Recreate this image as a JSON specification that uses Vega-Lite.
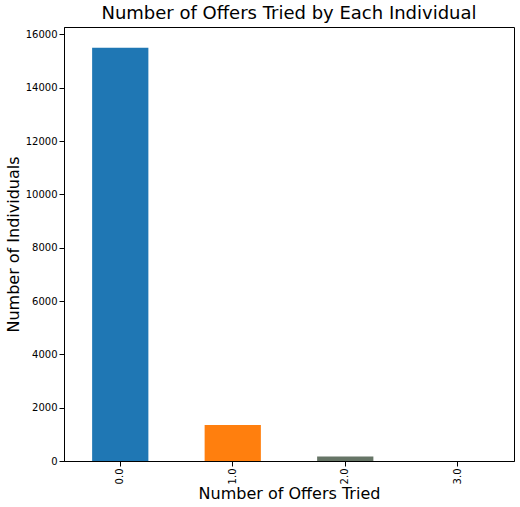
{
  "$schema": "https://vega.github.io/schema/vega-lite/v6.json",
  "width": 520,
  "height": 507,
  "autosize": {"type": "fit", "contains": "padding"},
  "padding": {"left": 5, "right": 6, "top": 5, "bottom": 5},
  "background": "white",
  "data": {
    "values": [
      {"offers": "0.0", "count": 15500, "c": "#1f77b4"},
      {"offers": "1.0", "count": 1350, "c": "#ff7f0e"},
      {"offers": "2.0", "count": 170, "c": "#667566"},
      {"offers": "3.0", "count": 4, "c": "#d62728"}
    ]
  },
  "title": {"text": "Number of Offers Tried by Each Individual", "fontSize": 18, "fontWeight": "normal", "font": "DejaVu Sans", "color": "#000", "offset": 4},
  "config": {
    "view": {"stroke": "#000", "strokeWidth": 1},
    "axis": {"grid": false, "labelFont": "DejaVu Sans", "titleFont": "DejaVu Sans", "labelFontSize": 10, "titleFontSize": 16, "titleFontWeight": "normal", "labelColor": "#000", "titleColor": "#000", "domainColor": "#000", "tickColor": "#000"}
  },
  "mark": {"type": "bar"},
  "encoding": {
    "x": {"field": "offers", "type": "ordinal", "sort": null, "scale": {"paddingInner": 0.5, "paddingOuter": 0.25}, "axis": {"title": "Number of Offers Tried", "labelAngle": -90, "titlePadding": 2}},
    "y": {"field": "count", "type": "quantitative", "scale": {"domain": [0, 16275], "nice": false}, "axis": {"title": "Number of Individuals", "values": [0, 2000, 4000, 6000, 8000, 10000, 12000, 14000, 16000], "format": "d"}},
    "color": {"field": "c", "type": "nominal", "scale": null, "legend": null}
  }
}
